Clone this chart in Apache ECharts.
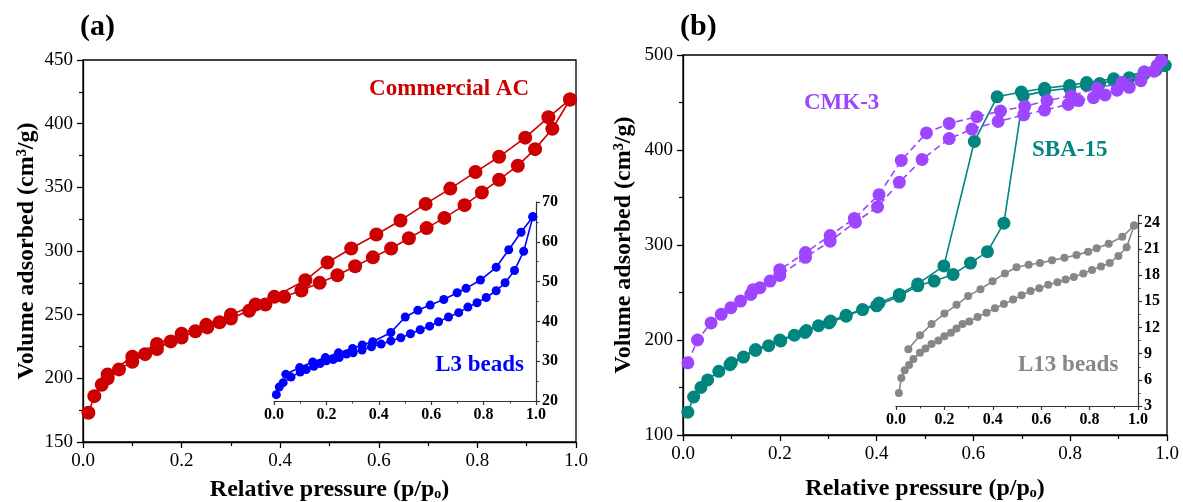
<!DOCTYPE html>
<html>
<head>
<meta charset="utf-8">
<script src="https://cdn.jsdelivr.net/npm/echarts@6/dist/echarts.min.js"></script>
<style>
  html, body { margin: 0; padding: 0; background: #fff; }
  #chart { width: 1183px; height: 502px; }
</style>
</head>
<body>
<div id="chart"></div>
<script>
// (a) Commercial AC  - adsorption / desorption
var acAdsP = [0.011,0.023,0.038,0.05,0.073,0.1,0.126,0.15,0.178,0.2,0.228,0.252,0.277,0.3,0.337,0.37,0.408,0.443,0.48,0.516,0.552,0.588,0.625,0.661,0.697,0.733,0.774,0.809,0.844,0.882,0.917,0.952,0.988];
var acAdsV = [173,186,195,200,207,213,219,223,229,232,237,240,244,247,253,258,264,269,275,281,288,295,302,310,318,326,336,346,356,367,380,396,419];
var acDesP = [0.988,0.944,0.897,0.844,0.796,0.745,0.695,0.644,0.595,0.544,0.496,0.451,0.388,0.35,0.3,0.25,0.2,0.15,0.1,0.05];
var acDesV = [419,405,389,374,362,349,337,324,313,302,291,277,264,258,250,242,235,227,217,203];

// (a) inset: L3 beads
var l3AdsP = [0.009,0.02,0.035,0.065,0.1,0.123,0.152,0.176,0.2,0.226,0.249,0.277,0.302,0.336,0.372,0.409,0.446,0.484,0.521,0.558,0.594,0.628,0.666,0.705,0.74,0.775,0.81,0.848,0.882,0.918,0.953,0.988];
var l3AdsV = [21.6,23.5,24.6,26,27.3,27.9,28.7,29.4,30.1,30.4,30.9,31.8,32.1,32.8,33.6,34.3,35.1,35.9,36.9,37.9,38.8,39.9,41.1,42.2,43.6,44.7,46,47.7,49.7,52.8,57.6,66.3];
var l3DesP = [0.988,0.943,0.896,0.848,0.788,0.733,0.699,0.648,0.596,0.549,0.501,0.446,0.377,0.337,0.3,0.246,0.196,0.148,0.098,0.045];
var l3DesV = [66.3,62.4,58,53.6,50.4,48.3,47.2,45.5,44.1,42.8,41.1,37.2,34.9,34.1,33.2,32.1,30.9,29.8,28.4,26.7];

// (b) CMK-3
var cmkAdsP = [0.01,0.03,0.058,0.079,0.099,0.119,0.14,0.159,0.18,0.2,0.253,0.304,0.356,0.402,0.447,0.494,0.55,0.597,0.651,0.704,0.747,0.796,0.817,0.848,0.872,0.897,0.922,0.946,0.973,0.988];
var cmkAdsV = [176,200,218,227,234,241,248,255,262,268,287,304,324,340,366,390,412,422,430,437,442,448,452,455,458,463,466,473,483,494];
var cmkDesP = [0.988,0.98,0.953,0.907,0.856,0.802,0.752,0.706,0.656,0.607,0.55,0.503,0.451,0.405,0.354,0.304,0.253,0.2,0.145];
var cmkDesV = [494,489,482,471,465,457,452,446,441,435,428,418,389,353,328,310,292,274,253];

// (b) SBA-15
var sbaAdsP = [0.01,0.022,0.037,0.051,0.074,0.097,0.125,0.15,0.177,0.202,0.23,0.252,0.28,0.302,0.337,0.371,0.4,0.447,0.485,0.519,0.558,0.594,0.629,0.663,0.703,0.747,0.799,0.834,0.861,0.89,0.922,0.953,0.977,0.996];
var sbaAdsV = [124,140,150,158,167,174,182,189,194,199,205,208,215,218,225,232,236,246,257,262,269,281,293,323,457,462,465,468,470,473,476,480,484,489];
var sbaDesP = [0.996,0.953,0.89,0.834,0.799,0.747,0.699,0.649,0.602,0.539,0.485,0.447,0.405,0.337,0.305,0.255,0.2,0.15,0.1];
var sbaDesV = [489,482,475,471,468,465,461,456,409,278,259,248,239,226,220,210,200,190,176];

// (b) inset: L13 beads
var l13AdsP = [0.012,0.022,0.036,0.054,0.072,0.099,0.122,0.147,0.175,0.2,0.227,0.25,0.275,0.303,0.337,0.374,0.409,0.446,0.484,0.519,0.556,0.592,0.629,0.667,0.701,0.735,0.774,0.81,0.847,0.883,0.919,0.953,0.984];
var l13AdsV = [4.5,6.2,7.1,7.7,8.4,9.1,9.6,10.1,10.5,11,11.4,11.9,12.4,12.7,13.2,13.7,14.2,14.7,15.2,15.7,16.2,16.5,16.9,17.2,17.5,17.8,18.2,18.6,19,19.4,20.2,21.2,23.7];
var l13DesP = [0.984,0.935,0.879,0.829,0.794,0.746,0.696,0.645,0.595,0.548,0.498,0.45,0.399,0.349,0.298,0.25,0.2,0.147,0.099,0.051];
var l13DesV = [23.7,22.4,21.6,21.1,20.7,20.3,20,19.7,19.4,19.2,18.9,18.2,17.3,16.4,15.6,14.6,13.6,12.4,11.1,9.5];

var FONT = "'Liberation Serif', 'Times New Roman', serif";
var RED = '#cc0000', BLUE = '#0000ff', PURPLE = '#9e45ff', TEAL = '#00857f', GRAY = '#878787';

function pairs(xs, ys) {
  return xs.map(function (x, i) { return [x, ys[i]]; });
}

function mainX(g, gap) {
  return {
    gridIndex: g, type: 'value', min: 0, max: 1, interval: 0.2,
    axisLine: { show: true, onZero: false, lineStyle: { color: '#000', width: 1.3 } },
    axisTick: { show: true, length: 6, lineStyle: { color: '#000', width: 1.3 } },
    minorTick: { show: true, splitNumber: 2, length: 4, lineStyle: { color: '#000', width: 1.2 } },
    splitLine: { show: false },
    axisLabel: { fontFamily: FONT, fontSize: 19, color: '#000', margin: 10,
      formatter: function (v) { return v.toFixed(1); } },
    name: 'Relative pressure (p/p\u2092)', nameLocation: 'middle', nameGap: gap,
    nameTextStyle: { fontFamily: FONT, fontSize: 24, fontWeight: 'bold', color: '#000' }
  };
}
function mainY(g, min, max, step, gap) {
  return {
    gridIndex: g, type: 'value', min: min, max: max, interval: step,
    axisLine: { show: true, onZero: false, lineStyle: { color: '#000', width: 1.3 } },
    axisTick: { show: true, length: 6, lineStyle: { color: '#000', width: 1.3 } },
    minorTick: { show: true, splitNumber: 2, length: 4, lineStyle: { color: '#000', width: 1.2 } },
    splitLine: { show: false },
    axisLabel: { fontFamily: FONT, fontSize: 19, color: '#000', margin: 10 },
    name: 'Volume adsorbed (cm\u00b3/g)', nameLocation: 'middle', nameGap: gap,
    nameTextStyle: { fontFamily: FONT, fontSize: 24, fontWeight: 'bold', color: '#000' }
  };
}
function insetX(g) {
  return {
    gridIndex: g, type: 'value', min: 0, max: 1, interval: 0.2, position: 'bottom',
    axisLine: { show: true, onZero: false, lineStyle: { color: '#333', width: 1.2 } },
    axisTick: { show: true, length: 4, lineStyle: { color: '#333', width: 1.2 } },
    minorTick: { show: true, splitNumber: 2, length: 2.5, lineStyle: { color: '#333', width: 1 } },
    splitLine: { show: false },
    axisLabel: { fontFamily: FONT, fontSize: 16, fontWeight: 'bold', color: '#000', margin: 6,
      formatter: function (v) { return v.toFixed(1); } }
  };
}
function insetY(g, min, max, step) {
  return {
    gridIndex: g, type: 'value', min: min, max: max, interval: step, position: 'right',
    axisLine: { show: true, onZero: false, lineStyle: { color: '#333', width: 1.2 } },
    axisTick: { show: true, length: 4, lineStyle: { color: '#333', width: 1.2 } },
    minorTick: { show: true, splitNumber: 2, length: 2.5, lineStyle: { color: '#333', width: 1 } },
    splitLine: { show: false },
    axisLabel: { fontFamily: FONT, fontSize: 16, fontWeight: 'bold', color: '#000', margin: 6 }
  };
}
function branch(idx, xs, ys, color, size, dashed, z) {
  return {
    type: 'line', xAxisIndex: idx, yAxisIndex: idx, data: pairs(xs, ys),
    symbol: 'circle', symbolSize: size, showSymbol: true, z: z,
    lineStyle: { color: color, width: 1.6, type: dashed ? [7, 4] : 'solid' },
    itemStyle: { color: color },
    animation: false
  };
}
function label(text, x, y, color, size, align) {
  return {
    type: 'text', x: x, y: y, z: 100,
    style: {
      text: text, fill: color, fontFamily: FONT, fontSize: size, fontWeight: 'bold',
      align: align || 'left', verticalAlign: 'middle',
      textAlign: align || 'left', textVerticalAlign: 'middle'
    }
  };
}

var chart = echarts.init(document.getElementById('chart'), null, { renderer: 'canvas' });

var option = {
  backgroundColor: '#fff',
  animation: false,
  grid: [
    { left: 83, top: 60, width: 493, height: 382, show: true, borderColor: '#000', borderWidth: 1.3, containLabel: false, outerBoundsMode: 'none' },
    { left: 274, top: 202, width: 262, height: 199, show: false, outerBoundsMode: 'none' },
    { left: 683, top: 55, width: 484, height: 380, show: true, borderColor: '#000', borderWidth: 1.3, containLabel: false, outerBoundsMode: 'none' },
    { left: 896, top: 215, width: 242, height: 191, show: false, outerBoundsMode: 'none' }
  ],
  xAxis: [mainX(0, 36), insetX(1), mainX(2, 42), insetX(3)],
  yAxis: [mainY(0, 150, 450, 50, 44), insetY(1, 20, 70, 10), mainY(2, 100, 500, 100, 47), insetY(3, 3, 24.9, 3)],
  series: [
    branch(0, acAdsP, acAdsV, RED, 14, false, 2),
    branch(0, acDesP, acDesV, RED, 14, false, 2),
    branch(1, l3AdsP, l3AdsV, BLUE, 9, false, 3),
    branch(1, l3DesP, l3DesV, BLUE, 9, false, 3),
    branch(2, sbaAdsP, sbaAdsV, TEAL, 13, false, 2),
    branch(2, sbaDesP, sbaDesV, TEAL, 13, false, 2),
    branch(2, cmkAdsP, cmkAdsV, PURPLE, 13, true, 3),
    branch(2, cmkDesP, cmkDesV, PURPLE, 13, true, 3),
    branch(3, l13AdsP, l13AdsV, GRAY, 8, false, 4),
    branch(3, l13DesP, l13DesV, GRAY, 8, false, 4)
  ],
  graphic: [
    label('(a)', 80, 27, '#000', 30),
    label('(b)', 680, 27, '#000', 30),
    label('Commercial AC', 529, 89, RED, 23, 'right'),
    label('L3 beads', 524, 365, BLUE, 23, 'right'),
    label('CMK-3', 804, 103, PURPLE, 23),
    label('SBA-15', 1032, 150, TEAL, 23),
    label('L13 beads', 1018, 365, GRAY, 23)
  ]
};

chart.setOption(option);
</script>
</body>
</html>
